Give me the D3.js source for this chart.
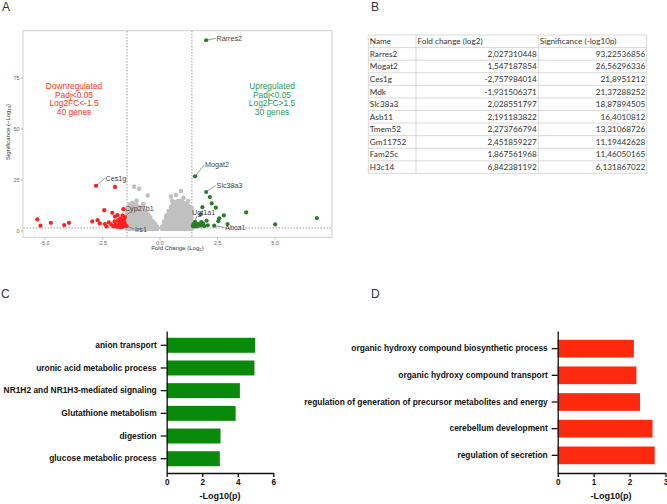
<!DOCTYPE html>
<html lang="en">
<head>
<meta charset="UTF-8" />
<title>volcano + enrichment</title>
<script src="https://cdn.jsdelivr.net/npm/d3@7"></script>
<style>
  body { margin: 0; background: #fff; }
  svg { display: block; }
  .panel-letter { font-family: "Liberation Sans", Arial, sans-serif; font-size: 12px; fill: #333; }
  .go text { font-family: "Liberation Sans", Arial, sans-serif; font-weight: bold; fill: #111; }
</style>
</head>
<body>
<div id="fig"></div>
<script>
"use strict";

// ---------- panel A : volcano ----------
const xTicksA = [-5, -2.5, 0, 2.5, 5];
const yTicksA = [0, 25, 50, 75];
const foldCut = 1.41;      // where the dashed verticals sit
const sigCut = 1.3;

// grey (not significant) points: [fold change, list of significances]
const greyLeft = [
  [-1.4, [0.8, 2.6, 4.4, 6.2, 8, 9.6]],
  [-1.3, [0.8, 2.6, 4.4, 6.2, 8, 9.8, 11.2]],
  [-1.2, [0.8, 2.6, 4.4, 6.2, 8, 9.8, 11.6, 12.2]],
  [-1.1, [0.8, 2.6, 4.4, 6.2, 8, 9.8, 11.6, 12.6]],
  [-1.0, [0.8, 2.6, 4.4, 6.2, 8, 9.8, 11.6, 12.5]],
  [-0.9, [0.8, 2.6, 4.4, 6.2, 8, 9.8, 11.6]],
  [-0.8, [0.8, 2.6, 4.4, 6.2, 8, 9.8, 11.2]],
  [-0.7, [0.8, 2.6, 4.4, 6.2, 8, 9.8, 10.4]],
  [-0.6, [0.8, 2.6, 4.4, 6.2, 8, 9.2]],
  [-0.5, [0.8, 2.6, 4.4, 6.2, 7.8]],
  [-0.4, [0.8, 2.6, 4.4, 6.4]],
  [-0.3, [0.8, 2.6, 4.6]],
  [-0.2, [0.8, 2.4, 3.4]],
  [-0.1, [0.8, 2]],
];
const greyRight = [
  [0.12, [0.8, 2]],
  [0.2, [0.8, 2.6, 4.4]],
  [0.3, [0.8, 2.6, 4.4, 6.2, 7.4]],
  [0.4, [0.8, 2.6, 4.4, 6.2, 8, 9.6]],
  [0.5, [0.8, 2.6, 4.4, 6.2, 8, 9.8, 11.6]],
  [0.6, [0.8, 2.6, 4.4, 6.2, 8, 9.8, 11.6, 13]],
  [0.7, [0.8, 2.6, 4.4, 6.2, 8, 9.8, 11.6, 13.4, 14]],
  [0.8, [0.8, 2.6, 4.4, 6.2, 8, 9.8, 11.6, 13.4, 14.4]],
  [0.9, [0.8, 2.6, 4.4, 6.2, 8, 9.8, 11.6, 13.4, 14.6]],
  [1.0, [0.8, 2.6, 4.4, 6.2, 8, 9.8, 11.6, 13.4, 14]],
  [1.1, [0.8, 2.6, 4.4, 6.2, 8, 9.8, 11.6, 13.4]],
  [1.2, [0.8, 2.6, 4.4, 6.2, 8, 9.8, 11.6, 12.6]],
  [1.3, [0.8, 2.6, 4.4, 6.2, 8, 9.8, 11.6]],
  [1.4, [0.8, 2.6, 4.4, 6.2, 8, 9.8, 11]],
];
const greyOutliers = [
  [-1.1, 21.5], [-0.88, 20.5], [-0.51, 17.2], [-0.99, 14.6], [-1.17, 13.6],
  [-0.7, 13], [-1.3, 12.8], [0.93, 19.4], [0.72, 17.4], [0.5, 16.6],
  [0.55, 14.5], [1.05, 16], [1.25, 14.5],
];

// significant genes not in the table
const downOther = [
  [-5.31, 5.5], [-5.17, 2.4], [-4.72, 3.8], [-4.14, 2.7], [-3.93, 3.8],
  [-2.92, 4.5], [-2.69, 5.1], [-2.59, 3.5], [-2.4, 10], [-2.37, 3.2],
  [-2.3, 2.0], [-2.2, 4], [-2.05, 8.7], [-1.93, 6.8], [-1.82, 7.6],
  [-1.57, 10.5], [-2.1, 3.0], [-2.0, 2.0], [-1.95, 4.5], [-1.9, 3.0],
  [-1.85, 1.8], [-1.8, 5.0], [-1.8, 2.5], [-1.75, 3.8], [-1.7, 6.0],
  [-1.7, 1.5], [-1.65, 4.5], [-1.65, 2.8], [-1.6, 7.5], [-1.6, 3.5],
  [-1.6, 1.8], [-1.55, 5.5], [-1.55, 2.2], [-1.52, 4.0], [-1.5, 6.5],
  [-1.5, 3.0],
];
const upOther = [
  [3.77, 8.9], [5.03, 3.0], [2.8, 7.4], [2.6, 6.0], [2.56, 4.6], [2.96, 3.2],
  [1.79, 7.9], [1.45, 2.2], [1.48, 3.2], [1.52, 2.0], [1.58, 2.8], [1.62, 2.0],
  [1.7, 3.3], [1.75, 2.4], [1.82, 4.2], [1.85, 2.7], [1.9, 3.4], [1.95, 2.2],
  [2.05, 4.8], [2.1, 2.6],
];
// other labelled genes [name, fold change, significance]
const extraLabelled = [
  ["Cyp27b1", -1.64, 5.1],
  ["Irs1", -1.43, 2.2],
  ["Ugt1a1", 1.55, 4.3],
  ["Abca1", 2.38, 2.4],
];
const labelledNames = ["Rarres2", "Mogat2", "Ces1g", "Slc38a3", "Cyp27b1", "Irs1", "Ugt1a1", "Abca1"];

// ---------- panel B : table ----------
const tableHeader = ["Name", "Fold change (log2)", "Significance (-log10p)"];
const tableNames = ["Rarres2", "Mogat2", "Ces1g", "Mdk", "Slc38a3", "Asb11", "Tmem52", "Gm11752", "Fam25c", "H3c14"];
const tableFoldChange = [2.027310448, 1.547187854, -2.757984014, -1.931506371, 2.028551797,
  2.191183822, 2.273766794, 2.451859227, 1.867561968, 6.842381192];
const tableSignificance = [93.22536856, 26.56296336, 21.8951212, 21.37288252, 18.87894505,
  16.4010812, 13.31068726, 11.19442628, 11.46050165, 6.131867022];

// ---------- panel C / D : enrichment ----------
const upTerms = ["anion transport", "uronic acid metabolic process", "NR1H2 and NR1H3-mediated signaling",
  "Glutathione metabolism", "digestion", "glucose metabolic process"];
const upTermValues = [4.98, 4.94, 4.12, 3.88, 3.03, 2.99];
const downTerms = ["organic hydroxy compound biosynthetic process", "organic hydroxy compound transport",
  "regulation of generation of precursor metabolites and energy", "cerebellum development",
  "regulation of secretion"];
const downTermValues = [2.12, 2.19, 2.29, 2.64, 2.70];

const width = 667, height = 504;
const svg = d3.select("#fig").append("svg")
  .attr("width", width).attr("height", height)
  .attr("viewBox", [0, 0, width, height]);

const RED = "#ff1f1f", GREEN = "#2a7d2a", GREY = "#c0c0c0";

// panel letters
[["A", 2, 11], ["B", 371, 11], ["C", 1, 298], ["D", 371, 298]].forEach(([t, x, y]) =>
  svg.append("text").attr("class", "panel-letter").attr("x", x).attr("y", y).text(t));

// ===== A =====
(function volcano() {
  const x = d3.scaleLinear().domain([-5.93, 7.5]).range([23, 332]);
  const y = d3.scaleLinear().domain([-3.3, 97.9]).range([237.3, 30.7]);
  const g = svg.append("g").attr("font-family", "Liberation Sans, Arial, sans-serif");

  g.append("rect").attr("x", 23).attr("y", 30.7).attr("width", 309).attr("height", 206.6)
    .attr("fill", "none").attr("stroke", "#cfcfcf").attr("stroke-width", 1);

  const xAxis = d3.axisBottom(x).tickValues(xTicksA).tickFormat(d3.format(".1f")).tickSize(2).tickPadding(1.5);
  g.append("g").attr("transform", "translate(0,237.3)").call(xAxis)
    .call(a => a.select(".domain").remove())
    .call(a => a.selectAll("line").attr("stroke", "#aaa"))
    .call(a => a.selectAll("text").attr("font-size", 5.5).attr("fill", "#666").attr("font-family", null)
      .text(d => d3.format(".1f")(d).replace("−", "-")));
  const yAxis = d3.axisLeft(y).tickValues(yTicksA).tickSize(2).tickPadding(1.5);
  g.append("g").attr("transform", "translate(23,0)").call(yAxis)
    .call(a => a.select(".domain").remove())
    .call(a => a.selectAll("line").attr("stroke", "#aaa"))
    .call(a => a.selectAll("text").attr("font-size", 5.5).attr("fill", "#666").attr("font-family", null));

  // thresholds
  [-foldCut, foldCut].forEach(v => g.append("line")
    .attr("x1", x(v)).attr("x2", x(v)).attr("y1", 31).attr("y2", 237)
    .attr("stroke", "#888").attr("stroke-width", 0.8).attr("stroke-dasharray", "1.5,1.5"));
  g.append("line").attr("x1", 23.5).attr("x2", 331.5).attr("y1", y(sigCut)).attr("y2", y(sigCut))
    .attr("stroke", "#888").attr("stroke-width", 0.8).attr("stroke-dasharray", "1.5,1.5");

  const grey = [];
  greyLeft.concat(greyRight).forEach(([fc, ys]) => ys.forEach(s => grey.push([fc, s])));
  greyOutliers.forEach(p => grey.push(p));

  const tablePts = tableNames.map((n, i) => [tableFoldChange[i], tableSignificance[i], n]);
  const extraPts = extraLabelled.map(([n, fc, s]) => [fc, s, n]);
  const down = downOther.concat(tablePts.filter(p => p[0] < 0), extraPts.filter(p => p[0] < 0));
  const up = upOther.concat(tablePts.filter(p => p[0] > 0), extraPts.filter(p => p[0] > 0));

  g.append("g").selectAll("circle").data(grey).join("circle")
    .attr("cx", d => x(d[0])).attr("cy", d => y(d[1])).attr("r", 2.3).attr("fill", GREY);
  g.append("g").selectAll("circle").data(down).join("circle")
    .attr("cx", d => x(d[0])).attr("cy", d => y(d[1])).attr("r", 2.1).attr("fill", RED);
  g.append("g").selectAll("circle").data(up).join("circle")
    .attr("cx", d => x(d[0])).attr("cy", d => y(d[1])).attr("r", 2.1).attr("fill", GREEN);

  // gene labels: offsets in px from the point, and whether the leader goes to the text bottom
  const labelOffset = {
    Rarres2: [10.4, -1.8, 0], Mogat2: [10, -11.6, 0], Slc38a3: [10.5, -6.7, 0], Ces1g: [9.6, -7.5, 0],
    Cyp27b1: [3.2, -11.8, 1], Ugt1a1: [-3, -9.7, 1], Irs1: [8.4, 3, 0], Abca1: [11, 1.7, 0],
  };
  const allPts = down.concat(up).filter(p => p[2] && labelledNames.includes(p[2]));
  allPts.forEach(p => {
    const px = x(p[0]), py = y(p[1]);
    const [dx, dy, bottom] = labelOffset[p[2]];
    const tx = px + dx, ty = py + dy;
    const ex = bottom ? tx + 5 : tx - 0.8, ey = bottom ? ty + 3.5 : ty;
    g.append("line").attr("x1", px).attr("y1", py).attr("x2", ex).attr("y2", ey)
      .attr("stroke", "#555").attr("stroke-width", 0.6);
    g.append("text").attr("x", tx).attr("y", ty).attr("dy", "0.35em")
      .attr("font-size", 7.2).attr("fill", "#444").text(p[2]);
  });

  // annotations
  const note = (lines, cx, color) => {
    const t = g.append("text").attr("text-anchor", "middle").attr("font-size", 8.4).attr("fill", color);
    lines.forEach((l, i) => t.append("tspan").attr("x", cx).attr("y", 89 + i * 8.5).text(l));
  };
  note(["Downregulated", "Padj<0.05", "Log2FC<-1.5", "40 genes"], 74, "#ff3322");
  note(["Upregulated", "Padj<0.05", "Log2FC>1.5", "30 genes"], 272, "#1f9a57");

  // axis titles
  const xt = g.append("text").attr("x", 177.5).attr("y", 249.5).attr("text-anchor", "middle")
    .attr("font-size", 6).attr("fill", "#333").text("Fold Change (Log");
  xt.append("tspan").attr("font-size", 4.2).attr("dy", 1.5).text("2");
  xt.append("tspan").attr("dy", -1.5).text(")");
  const yt = g.append("text").attr("transform", "translate(9.5,132) rotate(-90)").attr("text-anchor", "middle")
    .attr("font-size", 6).attr("fill", "#333").text("Significance (\u2212Log");
  yt.append("tspan").attr("font-size", 4.2).attr("dy", 1.5).text("10");
  yt.append("tspan").attr("dy", -1.5).text(")");
})();

// ===== B =====
(function table() {
  const colX = [368.3, 416, 538.3, 646.7];
  const top = 35, rowH = 12.58;
  const g = svg.append("g").attr("font-family", "Lato, 'Open Sans', sans-serif").attr("font-size", 8.2);
  const rows = tableNames.map((n, i) => [n,
    String(tableFoldChange[i]).replace(".", ","),
    String(tableSignificance[i]).replace(".", ",")]);
  const nRows = rows.length + 1;

  for (let r = 0; r <= nRows; r++) {
    g.append("line").attr("x1", colX[0]).attr("x2", colX[3])
      .attr("y1", top + r * rowH).attr("y2", top + r * rowH)
      .attr("stroke", "#cfcfcf").attr("stroke-width", 0.8);
  }
  colX.forEach(cx => g.append("line").attr("x1", cx).attr("x2", cx)
    .attr("y1", top).attr("y2", top + nRows * rowH).attr("stroke", "#cfcfcf").attr("stroke-width", 0.8));

  tableHeader.forEach((h, c) => g.append("text").attr("x", colX[c] + 1.5).attr("y", top + rowH / 2)
    .attr("dy", "0.36em").attr("fill", "#333").text(h));
  rows.forEach((row, r) => {
    const cy = top + (r + 1.5) * rowH;
    g.append("text").attr("x", colX[0] + 1.5).attr("y", cy).attr("dy", "0.36em").attr("fill", "#333").text(row[0]);
    g.append("text").attr("x", colX[2] - 1.5).attr("y", cy).attr("dy", "0.36em").attr("text-anchor", "end")
      .attr("fill", "#333").text(row[1]);
    g.append("text").attr("x", colX[3] - 1.5).attr("y", cy).attr("dy", "0.36em").attr("text-anchor", "end")
      .attr("fill", "#333").text(row[2]);
  });
})();

// ===== C & D =====
function barPanel(terms, values, opts) {
  const g = svg.append("g").attr("class", "go");
  const x = d3.scaleLinear().domain(opts.domain).range(opts.xRange);
  const y = d3.scaleBand().domain(terms).range([331, 473])
    .paddingInner(opts.padIn).paddingOuter(opts.padOut);

  g.selectAll("rect").data(terms).join("rect")
    .attr("x", x(0)).attr("y", d => y(d))
    .attr("width", (d, i) => x(values[i]) - x(0)).attr("height", y.bandwidth())
    .attr("fill", opts.color);

  g.append("g").attr("transform", `translate(${x(0)},0)`)
    .call(d3.axisLeft(y).tickSize(6).tickSizeOuter(0).tickPadding(4))
    .call(a => a.selectAll("path, line").attr("stroke", "#111").attr("stroke-width", 1.3))
    .call(a => a.selectAll("text").attr("font-size", 8.4).attr("font-family", null));

  g.append("g").attr("transform", "translate(0,473)")
    .call(d3.axisBottom(x).ticks(opts.ticks).tickFormat(d3.format("d")).tickSize(4).tickSizeOuter(0).tickPadding(2))
    .call(a => a.selectAll("path, line").attr("stroke", "#111").attr("stroke-width", 1.3))
    .call(a => a.selectAll("text").attr("font-size", 8.2).attr("font-family", null));

  g.append("text").attr("x", opts.titleX).attr("y", 499).attr("text-anchor", "middle")
    .attr("font-size", 9).text("-Log10(p)");
}

barPanel(upTerms, upTermValues, {
  domain: [0, 6], xRange: [166.7, 273.3], padIn: 0.34, padOut: 0.3, color: "#0a8a0a", ticks: 3, titleX: 220,
});
barPanel(downTerms, downTermValues, {
  domain: [0, 3], xRange: [557.7, 665.5], padIn: 0.337, padOut: 0.33, color: "#ff2a0e", ticks: 3, titleX: 611,
});
</script>
</body>
</html>
